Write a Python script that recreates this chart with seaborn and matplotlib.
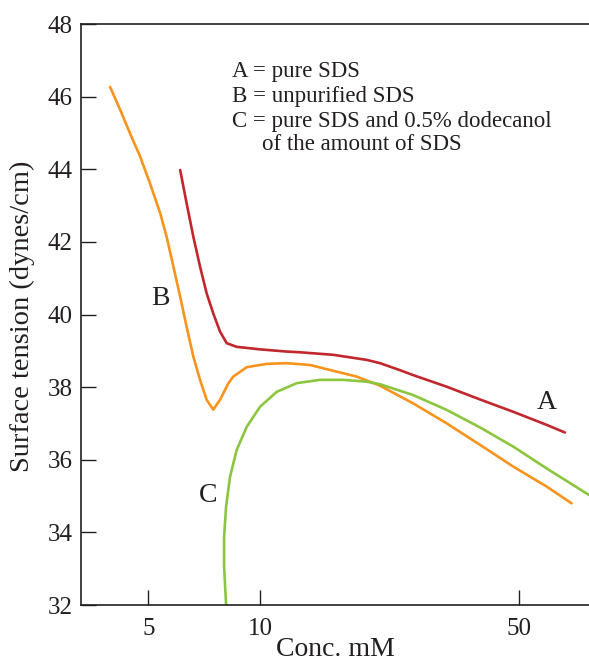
"""
Surface tension vs. concentration for SDS solutions (log concentration axis).
"""

import matplotlib
matplotlib.use("Agg")
import matplotlib.pyplot as plt
import pandas as pd
import seaborn as sns
from matplotlib.ticker import FixedLocator, FixedFormatter, NullLocator

# Curve A = pure SDS
A_CONC = [6.09, 6.34, 6.61, 6.89, 7.18, 7.48, 7.80, 8.13, 8.65, 10.0, 11.8,
          12.8, 15.76, 19.4, 21.07, 23.8, 25.9, 31.9, 39.2, 48.2, 59.3, 66.4]
A_TENSION = [43.98, 43.06, 42.14, 41.32, 40.58, 40.03, 39.53, 39.21, 39.11,
             39.04, 38.98, 38.96, 38.89, 38.75, 38.66, 38.47, 38.33, 38.01,
             37.66, 37.32, 36.96, 36.75]

# Curve B = unpurified SDS
B_CONC = [3.94, 4.20, 4.46, 4.75, 5.05, 5.38, 5.60, 5.84, 6.09, 6.34, 6.61,
          6.89, 7.18, 7.48, 7.80, 7.96, 8.22, 8.47, 9.21, 10.42, 11.8, 13.64,
          15.76, 18.23, 21.07, 25.9, 31.9, 39.2, 48.2, 59.3, 69.2]
B_TENSION = [46.27, 45.63, 44.99, 44.35, 43.61, 42.79, 42.14, 41.32, 40.49,
             39.66, 38.84, 38.20, 37.65, 37.38, 37.65, 37.83, 38.11, 38.29,
             38.55, 38.64, 38.66, 38.61, 38.45, 38.29, 38.04, 37.55, 37.00,
             36.41, 35.81, 35.26, 34.80]

# Curve C = pure SDS + 0.5% dodecanol
C_CONC = [8.10, 8.00, 8.00, 8.10, 8.30, 8.65, 9.21, 10.0, 11.09, 12.56,
          14.51, 16.77, 19.4, 21.07, 25.9, 31.9, 39.2, 48.2, 59.3, 77.1]
C_TENSION = [32.0, 33.05, 33.88, 34.71, 35.53, 36.27, 36.91, 37.46, 37.87,
             38.11, 38.20, 38.20, 38.15, 38.08, 37.78, 37.37, 36.89, 36.36,
             35.76, 35.03]

X_TICKS = [5, 10, 50]
X_TICK_LABELS = ["5", "10", "50"]
Y_TICKS = [32, 34, 36, 38, 40, 42, 44, 46, 48]

LEGEND_LINES = ["A = pure SDS", "B = unpurified SDS",
                "C = pure SDS and 0.5% dodecanol", "of the amount of SDS"]

RED = "#C1272D"
ORANGE = "#F7941D"
GREEN = "#8CC63F"
INK = "#231F20"

sns.set_theme(style="ticks")
plt.rcParams["font.family"] = ["Liberation Serif", "DejaVu Serif"]

fig = plt.figure(figsize=(5.89, 6.62), dpi=100)
ax = fig.add_axes([0.1375, 0.0861, 0.8625, 0.8776])

curves = [
    (A_CONC, A_TENSION, RED),
    (B_CONC, B_TENSION, ORANGE),
    (C_CONC, C_TENSION, GREEN),
]
for conc, tension, color in curves:
    df = pd.DataFrame({"conc": conc, "tension": tension})
    sns.lineplot(data=df, x="conc", y="tension", sort=False, estimator=None,
                 color=color, linewidth=1.9, ax=ax)

ax.set_xscale("log")
ax.set_xlim(3.29, 77.1)
ax.set_ylim(32, 48)
ax.xaxis.set_major_locator(FixedLocator(X_TICKS))
ax.xaxis.set_major_formatter(FixedFormatter(X_TICK_LABELS))
ax.xaxis.set_minor_locator(NullLocator())
ax.set_yticks(Y_TICKS)

ax.tick_params(direction="in", length=11, width=1.0, color=INK,
               labelsize=18, labelcolor=INK, pad=6)
ax.tick_params(axis="x", pad=9)
for side in ["left", "bottom", "top"]:
    ax.spines[side].set_color(INK)
    ax.spines[side].set_linewidth(1.2)
ax.spines["right"].set_visible(False)

ax.set_xlabel("Conc. mM", fontsize=20, color=INK)
ax.set_ylabel("Surface tension (dynes/cm)", fontsize=20.5, color=INK)
ax.xaxis.set_label_coords(0.5, -0.055)
ax.yaxis.set_label_coords(-0.09, 0.497)

# key text
text_y = [0.919, 0.876, 0.833, 0.792]
text_x = [0.297, 0.297, 0.297, 0.356]
for line, tx, ty in zip(LEGEND_LINES, text_x, text_y):
    ax.text(tx, ty, line, transform=ax.transAxes, fontsize=16.5,
            color=INK, va="center", ha="left")

# curve labels
ax.text(0.157, 0.528, "B", transform=ax.transAxes, fontsize=20,
        color=INK, ha="center", va="center")
ax.text(0.250, 0.189, "C", transform=ax.transAxes, fontsize=20,
        color=INK, ha="center", va="center")
ax.text(0.917, 0.348, "A", transform=ax.transAxes, fontsize=20,
        color=INK, ha="center", va="center")

fig.savefig("out.png", dpi=100)
plt.close(fig)
